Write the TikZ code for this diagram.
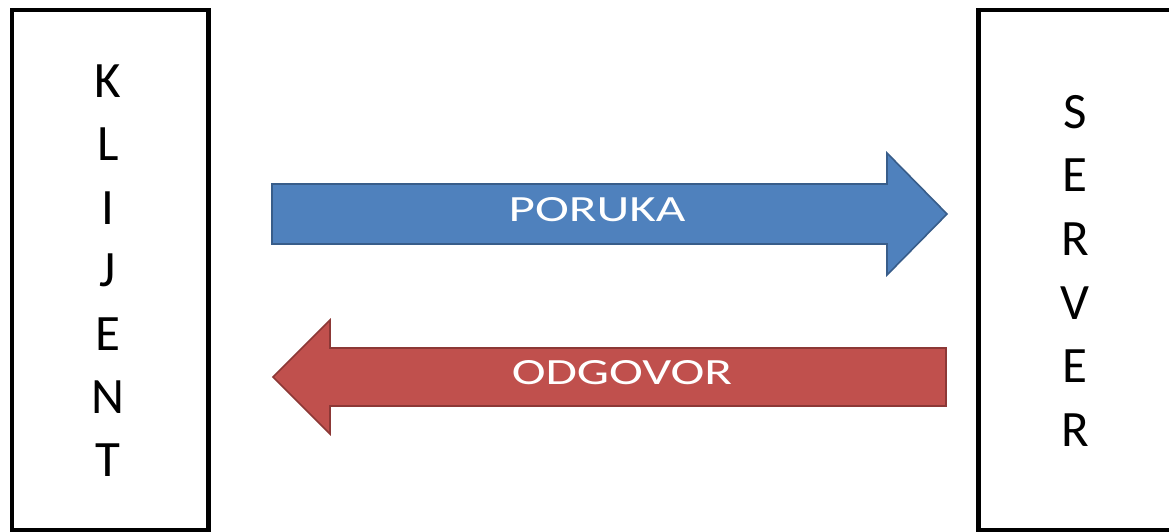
\documentclass[tikz,border=0pt]{standalone}
\usepackage{fontspec}
\setmainfont{Carlito}
\usetikzlibrary{calc}

\definecolor{arrowblue}{HTML}{4F81BD}
\definecolor{arrowblueline}{HTML}{385D8A}
\definecolor{arrowred}{HTML}{C0504D}
\definecolor{arrowredline}{HTML}{8C3836}

\newcommand{\widetext}[1]{\scalebox{1.38}[1]{#1}}

\tikzset{
 box/.style={draw=black, line width=4.5pt, fill=white, inner sep=0},
 letter/.style={font=\fontsize{51}{60}\selectfont, inner sep=0},
 blockblue/.style={fill=arrowblue, draw=arrowblueline, line width=1.6pt, line join=miter},
 blockred/.style={fill=arrowred, draw=arrowredline, line width=1.6pt, line join=miter},
 arrowtext/.style={text=white, font=\fontsize{37}{44}\selectfont, inner sep=0}
}

\begin{document}
\begin{tikzpicture} [x=1pt, y=-1pt]
\useasboundingbox (0,0) rectangle (1169,531);
\fill[white] (0,0) rectangle (1169,531);
% the two boxes
\node[box, minimum width=196.5pt, minimum height=520.5pt] (klijent) at (110,270) {};
\node[box, minimum width=193pt, minimum height=520.5pt] (server) at (1075,270) {};
\foreach \c [count=\i] in {K,L,I,J,E,N,T} {
 \node[letter] (k\i) at ($(108,81.5)+(0,{63.1*(\i-1)})$) {\c};
}
\foreach \c [count=\i] in {S,E,R,V,E,R} {
 \node[letter] (s\i) at ($(1075,112)+(0,{63.6*(\i-1)})$) {\c};
}
% request
\coordinate (p0) at (272,214);
\coordinate (p1) at (947,214);
\draw[blockblue] ($(p0)+(0,-30)$) -- ($(p1)+(-60,-30)$) -- ($(p1)+(-60,-61)$) -- (p1)
 -- ($(p1)+(-60,61)$) -- ($(p1)+(-60,30)$) -- ($(p0)+(0,30)$) -- cycle;
\node[arrowtext] (poruka) at (597,210) {\widetext{PORUKA}};
% answer
\coordinate (o0) at (946,377);
\coordinate (o1) at (273,377);
\draw[blockred] ($(o0)+(0,-29)$) -- ($(o1)+(57,-29)$) -- ($(o1)+(57,-57)$) -- (o1)
 -- ($(o1)+(57,57)$) -- ($(o1)+(57,29)$) -- ($(o0)+(0,29)$) -- cycle;
\node[arrowtext] (odgovor) at (622,373) {\widetext{ODGOVOR}};
\end{tikzpicture}
\end{document}
